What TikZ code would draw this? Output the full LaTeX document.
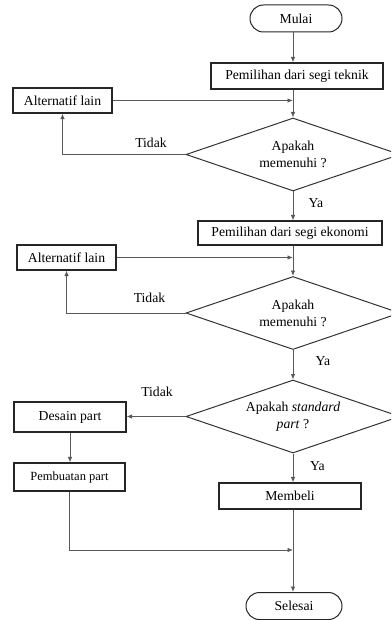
\documentclass[tikz,border=0pt]{standalone}
\usepackage{fontspec}
\setmainfont{Liberation Serif}
\usetikzlibrary{shapes.geometric,arrows.meta}
\tikzset{
  base/.style={font=\fontsize{13.7}{16}\selectfont, inner sep=0pt, text=black},
  term/.style={base, draw=black!85, line width=1pt, rounded corners=13.5pt},
  proc/.style={base, draw=black!85, line width=1.1pt},
  dec/.style={base, draw=black!80, line width=1pt, diamond, shape aspect=2.93,
    minimum width=214pt, minimum height=73pt, align=center,
    font=\fontsize{13.7}{17}\selectfont},
  lbl/.style={base},
  conn/.style={draw=black!65, line width=0.9pt},
  arr/.style={conn, -{Latex[length=5.5pt,width=4.5pt]}},
}
\begin{document}
\begin{tikzpicture}[x=1pt,y=-1pt]
\useasboundingbox (0,0) rectangle (391,620);
\clip (0,0) rectangle (391,620);
\fill[white] (0,0) rectangle (391,620);

\node[term, minimum width=92pt, minimum height=27pt] (mulai) at (296,18.5) {Mulai};
\node[proc, minimum width=172pt, minimum height=26pt] (tek) at (297,76) {Pemilihan dari segi teknik};
\node[proc, minimum width=99pt, minimum height=25pt] (alt1) at (62.5,100.5) {Alternatif lain};
\node[dec] (d1) at (293,154.5) {Apakah\\memenuhi ?};
\node[lbl] (t1) at (151,143) {Tidak};
\node[lbl] (y1) at (316,203) {Ya};
\node[proc, minimum width=184pt, minimum height=24pt] (eko) at (290,233) {Pemilihan dari segi ekonomi};
\node[proc, minimum width=99pt, minimum height=25pt] (alt2) at (66.5,257.5) {Alternatif lain};
\node[dec] (d2) at (293,313) {Apakah\\memenuhi ?};
\node[lbl] (t2) at (149.5,298) {Tidak};
\node[lbl] (y2) at (323,361) {Ya};
\node[dec] (d3) at (293,416.5) {Apakah \textit{standard}\\\textit{part} ?};
\node[lbl] (t3) at (157,392) {Tidak};
\node[proc, minimum width=112pt, minimum height=30pt] (des) at (70,417) {Desain part};
\node[proc, minimum width=111pt, minimum height=28pt, font=\fontsize{12.5}{15}\selectfont] (pem) at (69.5,477) {Pembuatan part};
\node[lbl] (y3) at (317.5,466) {Ya};
\node[proc, minimum width=142pt, minimum height=26pt] (bel) at (290,496) {Membeli};
\node[term, minimum width=96pt, minimum height=27pt] (sel) at (294,606) {Selesai};

\coordinate (ax) at (293,0);
\coordinate (j) at (0,550);

\draw[arr] (mulai.south -| ax) -- (tek.north -| ax);
\draw[arr] (tek.south -| ax) -- (d1.north);
\draw[arr] (alt1.east) -- (alt1.east -| ax);
\draw[arr] (d1.west) -| (alt1.south);
\draw[arr] (d1.south) -- (eko.north -| ax);
\draw[arr] (eko.south -| ax) -- (d2.north);
\draw[arr] (alt2.east) -- (alt2.east -| ax);
\draw[arr] (d2.west) -| (alt2.south);
\draw[arr] (d2.south) -- (d3.north);
\draw[arr] (d3.west) -- (d3.west -| des.east);
\draw[arr] (des.south) -- (des.south |- pem.north);
\draw[arr] (d3.south) -- (bel.north -| ax);
\draw[arr] (bel.south -| ax) -- (sel.north -| ax);
\draw[arr] (pem.south) |- (j -| ax);
\end{tikzpicture}
\end{document}
